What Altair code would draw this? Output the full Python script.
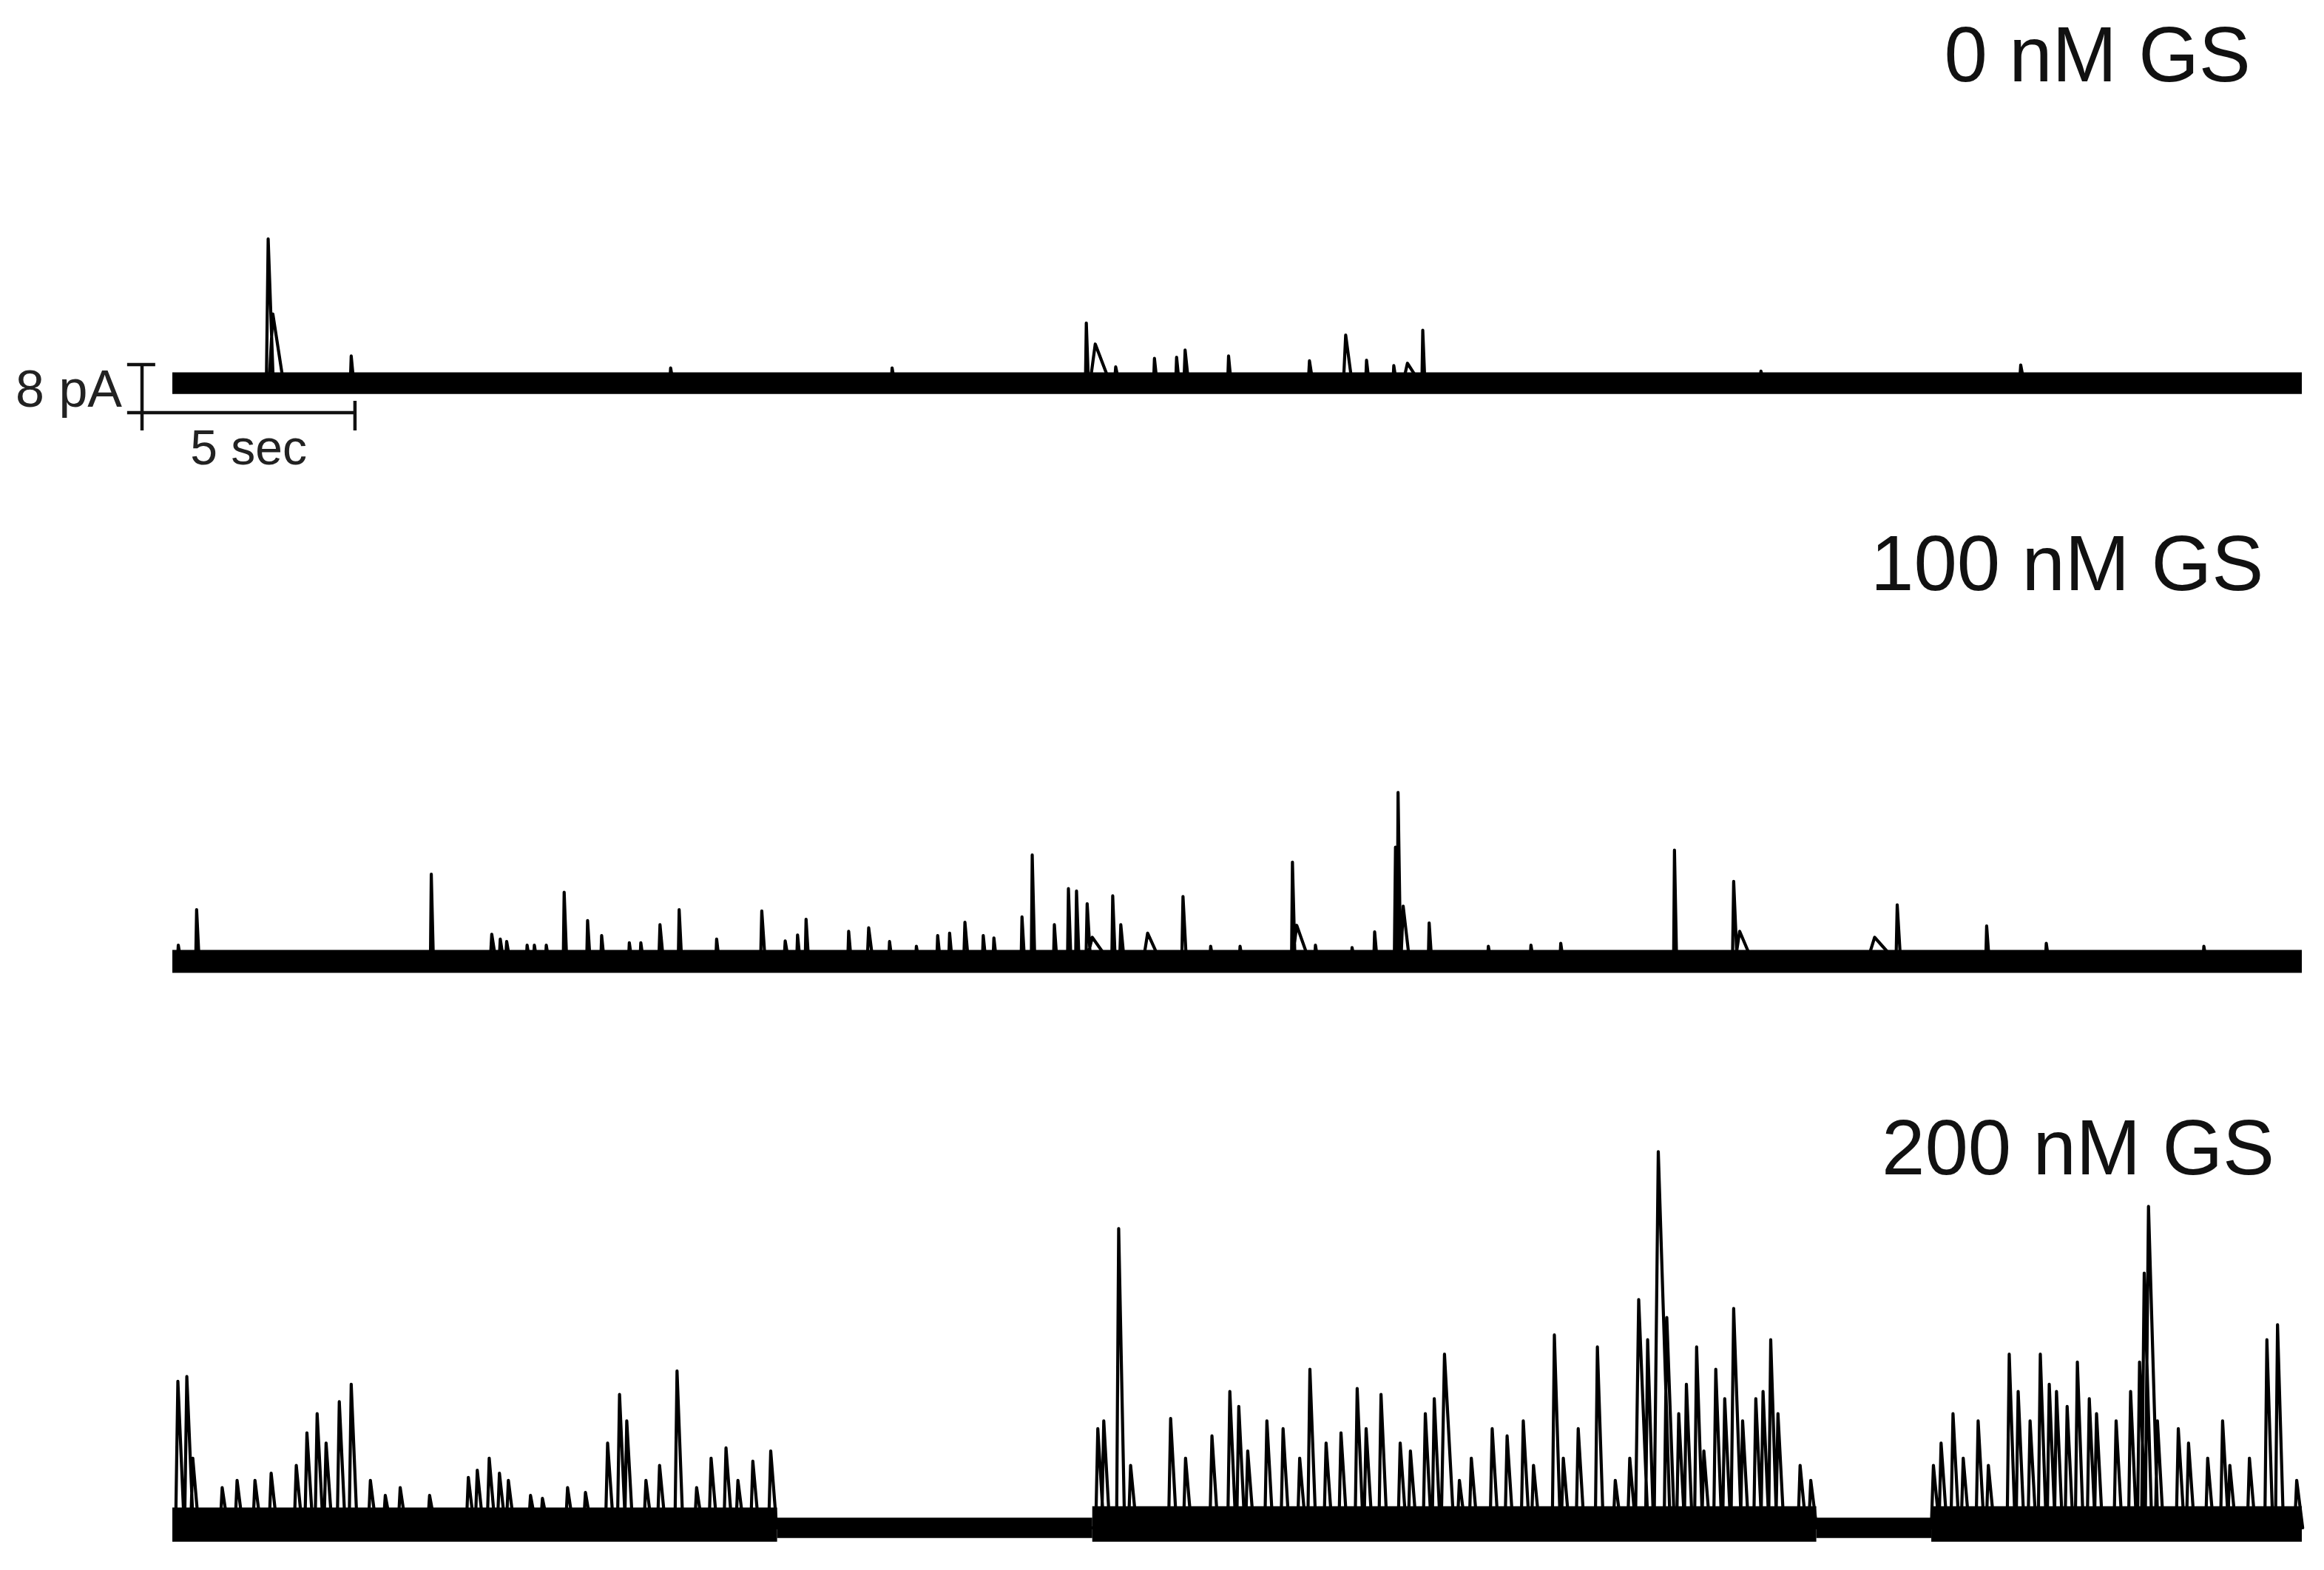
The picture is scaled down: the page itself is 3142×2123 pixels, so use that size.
import altair as alt
import pandas as pd

# ------------------------------------------------------------------
# Values
# ------------------------------------------------------------------
LABELS = ["0 nM GS", "100 nM GS", "200 nM GS"]
DURATION = 50.0          # seconds shown in every trace
SCALE_PA = 8             # vertical scale bar (pA)
SCALE_SEC = 5            # horizontal scale bar (s)

# 0 nM GS : event times (s), amplitudes (pA), decay durations (s)
T0_TIME = [2.25, 2.36, 4.2, 11.7, 16.9, 21.46, 21.67, 22.15, 23.06, 23.58, 23.78,
           24.8, 26.7, 27.55, 28.04, 28.68, 29.0, 29.36, 37.3, 43.4]
T0_AMP = [24.0, 11.5, 4.5, 2.5, 2.5, 10.0, 6.5, 2.7, 4.1, 4.3, 5.5,
          4.5, 3.7, 8.0, 3.8, 2.9, 3.3, 8.8, 2.0, 3.0]
T0_DECAY = [0.12, 0.25, 0.06, 0.06, 0.06, 0.05, 0.35, 0.08, 0.06, 0.06, 0.08,
            0.06, 0.08, 0.15, 0.06, 0.06, 0.3, 0.05, 0.06, 0.08]

# 100 nM GS
T1_TIME = [0.14, 0.57, 6.08, 7.5, 7.7, 7.85, 8.33, 8.5, 8.78, 9.2, 9.75, 10.08,
           10.73, 11.0, 11.45, 11.9, 12.78, 13.84, 14.39, 14.68, 14.88, 15.88,
           16.35, 16.84, 17.47, 17.97, 18.25, 18.61, 19.04, 19.29, 19.95, 20.19,
           20.71, 21.04, 21.23, 21.48, 21.6, 22.08, 22.27, 22.9, 23.73, 24.38,
           25.07, 26.3, 26.4, 26.84, 27.7, 28.23, 28.72, 28.78, 28.9, 29.51,
           30.9, 31.9, 32.6, 35.27, 36.66, 36.8, 39.97, 40.5, 42.6, 44.0, 47.7]
T1_AMP = [2.7, 8.6, 14.5, 4.5, 3.7, 3.3, 2.7, 2.7, 2.7, 11.5, 6.8, 4.3,
          3.1, 3.1, 6.1, 8.6, 3.7, 8.4, 3.4, 4.4, 7.0, 5.0,
          5.6, 3.3, 2.5, 4.3, 4.7, 6.5, 4.3, 3.9, 7.4, 17.7,
          6.1, 12.1, 11.7, 9.6, 4.0, 10.9, 6.1, 4.7, 10.8, 2.5,
          2.5, 16.5, 6.0, 2.7, 2.3, 4.9, 19.0, 28.1, 9.2, 6.4,
          2.5, 2.7, 3.0, 18.5, 13.3, 5.0, 4.0, 9.4, 5.9, 3.0, 2.5]
T1_DECAY = [0.06, 0.06, 0.05, 0.1, 0.08, 0.08, 0.06, 0.06, 0.06, 0.06, 0.06, 0.06,
            0.06, 0.06, 0.08, 0.06, 0.06, 0.08, 0.08, 0.06, 0.06, 0.06,
            0.1, 0.06, 0.06, 0.06, 0.06, 0.08, 0.06, 0.06, 0.06, 0.06,
            0.06, 0.06, 0.06, 0.08, 0.4, 0.06, 0.08, 0.3, 0.08, 0.06,
            0.06, 0.06, 0.3, 0.06, 0.06, 0.06, 0.08, 0.06, 0.15, 0.06,
            0.06, 0.06, 0.06, 0.05, 0.08, 0.3, 0.5, 0.08, 0.06, 0.06, 0.06]

# 200 nM GS
T2_TIME = [0.13, 0.34, 0.48, 1.17, 1.52, 1.94, 2.32, 2.91, 3.16, 3.40, 3.61, 3.92,
           4.20, 4.65, 5.0, 5.35, 6.04, 6.95, 7.16, 7.44, 7.68, 7.89, 8.41, 8.69,
           9.28, 9.70, 10.22, 10.50, 10.67, 11.12, 11.44, 11.85, 12.31, 12.65,
           13.0, 13.28, 13.63, 14.05,
           21.73, 21.87, 22.22, 22.5, 23.44, 23.79, 24.41, 24.83, 25.04, 25.25,
           25.70, 26.08, 26.47, 26.71, 27.09, 27.44, 27.82, 28.03, 28.38, 28.83,
           29.07, 29.42, 29.63, 29.87, 30.22, 30.50, 30.99, 31.34, 31.72, 31.96,
           32.45, 32.66, 33.01, 33.46, 33.88, 34.22, 34.43, 34.64, 34.89, 35.09,
           35.37, 35.55, 35.79, 35.96, 36.24, 36.45, 36.66, 36.87, 37.18, 37.35,
           37.53, 37.70, 38.22, 38.47,
           41.35, 41.53, 41.81, 42.05, 42.40, 42.64, 43.13, 43.34, 43.62, 43.86,
           44.07, 44.24, 44.49, 44.73, 45.01, 45.18, 45.64, 45.98, 46.19, 46.30,
           46.40, 46.61, 47.10, 47.34, 47.79, 48.14, 48.31, 48.77, 49.18, 49.43,
           49.88]
T2_AMP = [24.4, 25.2, 11.6, 6.7, 7.9, 7.9, 9.1, 10.4, 15.8, 19.0, 14.1, 21.0,
          23.9, 7.9, 5.4, 6.7, 5.4, 8.4, 9.6, 11.6, 9.1, 7.9, 5.4, 4.9,
          6.7, 5.9, 14.1, 22.2, 17.8, 7.9, 10.4, 26.1, 6.7, 11.6,
          13.3, 7.9, 11.1, 12.8,
          16.5, 17.8, 49.8, 10.4, 18.2, 11.6, 15.3, 22.7, 20.2, 12.8,
          17.8, 16.5, 11.6, 26.4, 14.1, 15.8, 23.2, 16.5, 22.2, 14.1,
          12.8, 19.0, 21.5, 28.9, 7.9, 11.6, 16.5, 15.3, 17.8, 10.4,
          32.1, 11.6, 16.5, 30.1, 7.9, 11.6, 38.0, 31.3, 62.6, 35.0,
          19.0, 23.9, 30.1, 12.8, 26.4, 21.5, 36.5, 17.8, 21.5, 22.7,
          31.3, 19.0, 10.4, 7.9,
          10.4, 14.1, 19.0, 11.6, 17.8, 10.4, 28.9, 22.7, 17.8, 28.9,
          23.9, 22.7, 20.2, 27.6, 21.5, 19.0, 17.8, 22.7, 27.6, 42.4,
          53.5, 17.8, 16.5, 14.1, 11.6, 17.8, 10.4, 11.6, 31.3, 33.8,
          7.9]
T2_DECAY_DEFAULT = 0.14
T2_BROAD = {0.13: 0.15, 0.34: 0.15, 29.87: 0.22, 34.43: 0.22, 34.89: 0.28,
            35.09: 0.18, 36.66: 0.18, 46.30: 0.18, 46.40: 0.22}

# Baseline noise bands: (start s, end s, lower pA, upper pA)
T0_BAND = [(0.0, 50.0, -1.8, 1.8)]
T1_BAND = [(0.0, 50.0, -1.9, 1.9)]
T2_BAND = [(0.0, 14.2, -2.3, 3.4), (14.2, 21.6, -1.7, 1.7), (21.6, 38.6, -2.3, 3.6),
           (38.6, 41.3, -1.7, 1.7), (41.3, 50.0, -2.3, 3.6)]

# ------------------------------------------------------------------
# Layout (pixel geometry of the reference)
# ------------------------------------------------------------------
W, H = 3126, 2107
PX_PER_S = 57.58
PX_PER_PA = 8.125
X_DOMAIN = [-225 / PX_PER_S, (W - 225) / PX_PER_S]
Y_DOMAIN = [0, H / PX_PER_PA]
BASE = [196.55, 100.31, 6.03]          # baseline of each trace (pA units on canvas)

def build_trace(k, times, amps, decays):
    rows = [(0.0, 0.0)]
    for t, a, d in sorted(zip(times, amps, decays)):
        rise = max(0.02, 0.35 * d)
        rows += [(t - rise, 0.0), (t, a), (t + d, 0.0)]
    rows.append((DURATION, 0.0))
    return pd.DataFrame({
        "t": [r[0] for r in rows],
        "v": [BASE[k] + r[1] for r in rows],
        "i": list(range(len(rows))),
        "trace": LABELS[k],
    })

t2_decay = [T2_BROAD.get(t, T2_DECAY_DEFAULT) for t in T2_TIME]
lines = pd.concat([
    build_trace(0, T0_TIME, T0_AMP, T0_DECAY),
    build_trace(1, T1_TIME, T1_AMP, T1_DECAY),
    build_trace(2, T2_TIME, T2_AMP, t2_decay),
], ignore_index=True)

band_rows = []
for k, bands in enumerate([T0_BAND, T1_BAND, T2_BAND]):
    for s, e, lo, hi in bands:
        band_rows.append({"t": s, "t2": e, "v": BASE[k] + lo, "v2": BASE[k] + hi})
bands_df = pd.DataFrame(band_rows)

xs = alt.Scale(domain=X_DOMAIN, nice=False, zero=False)
ys = alt.Scale(domain=Y_DOMAIN, nice=False, zero=False)

band_layer = alt.Chart(bands_df).mark_rect(color="black").encode(
    x=alt.X("t:Q", scale=xs, axis=None), x2="t2:Q",
    y=alt.Y("v:Q", scale=ys, axis=None), y2="v2:Q",
)

line_layer = alt.Chart(lines).mark_line(color="black", strokeWidth=4.2,
                                        strokeJoin="round").encode(
    x=alt.X("t:Q", scale=xs, axis=None),
    y=alt.Y("v:Q", scale=ys, axis=None),
    detail="trace:N",
    order="i:Q",
)

# scale bar
B0 = BASE[0]
sb_x0 = -0.712
sb_y0 = B0 - 4.92
bar_df = pd.DataFrame([
    {"t": sb_x0, "t2": sb_x0, "v": sb_y0 - 2.96, "v2": sb_y0 + SCALE_PA},       # vertical
    {"t": sb_x0 - 0.35, "t2": sb_x0 + 0.31, "v": sb_y0 + SCALE_PA, "v2": sb_y0 + SCALE_PA},  # cap
    {"t": sb_x0 - 0.35, "t2": sb_x0 + SCALE_SEC, "v": sb_y0, "v2": sb_y0},   # horizontal
    {"t": sb_x0 + SCALE_SEC, "t2": sb_x0 + SCALE_SEC, "v": sb_y0 - 2.96, "v2": sb_y0 + 1.97},
])
bar_layer = alt.Chart(bar_df).mark_rule(color="#111111", strokeWidth=4.5).encode(
    x=alt.X("t:Q", scale=xs, axis=None), x2="t2:Q",
    y=alt.Y("v:Q", scale=ys, axis=None), y2="v2:Q",
)

FONT = "Liberation Sans, Arial, Helvetica, sans-serif"
label_df = pd.DataFrame({
    "txt": LABELS,
    "t": [48.80, 49.10, 49.36],
    "v": [B0 + 50.22, BASE[1] + 61.78, BASE[2] + 58.83],
})
label_layer = alt.Chart(label_df).mark_text(
    align="right", baseline="alphabetic", fontSize=105, font=FONT, color="#111111"
).encode(x=alt.X("t:Q", scale=xs, axis=None), y=alt.Y("v:Q", scale=ys, axis=None), text="txt:N")

pa_df = pd.DataFrame({"txt": [f"{SCALE_PA} pA"], "t": [-1.181], "v": [B0 - 3.94]})
pa_layer = alt.Chart(pa_df).mark_text(
    align="right", baseline="alphabetic", fontSize=70, font=FONT, color="#222222"
).encode(x=alt.X("t:Q", scale=xs, axis=None), y=alt.Y("v:Q", scale=ys, axis=None), text="txt:N")

sec_df = pd.DataFrame({"txt": [f"{SCALE_SEC} sec"], "t": [1.789], "v": [B0 - 13.54]})
sec_layer = alt.Chart(sec_df).mark_text(
    align="center", baseline="alphabetic", fontSize=66, font=FONT, color="#222222"
).encode(x=alt.X("t:Q", scale=xs, axis=None), y=alt.Y("v:Q", scale=ys, axis=None), text="txt:N")

chart = alt.layer(band_layer, line_layer, bar_layer, label_layer, pa_layer, sec_layer).properties(
    width=W, height=H, autosize=alt.AutoSizeParams(type="none"), padding=0,
    background="white",
).configure_view(stroke=None)

chart.save("out.html", embed_options={"renderer": "svg", "actions": False})
